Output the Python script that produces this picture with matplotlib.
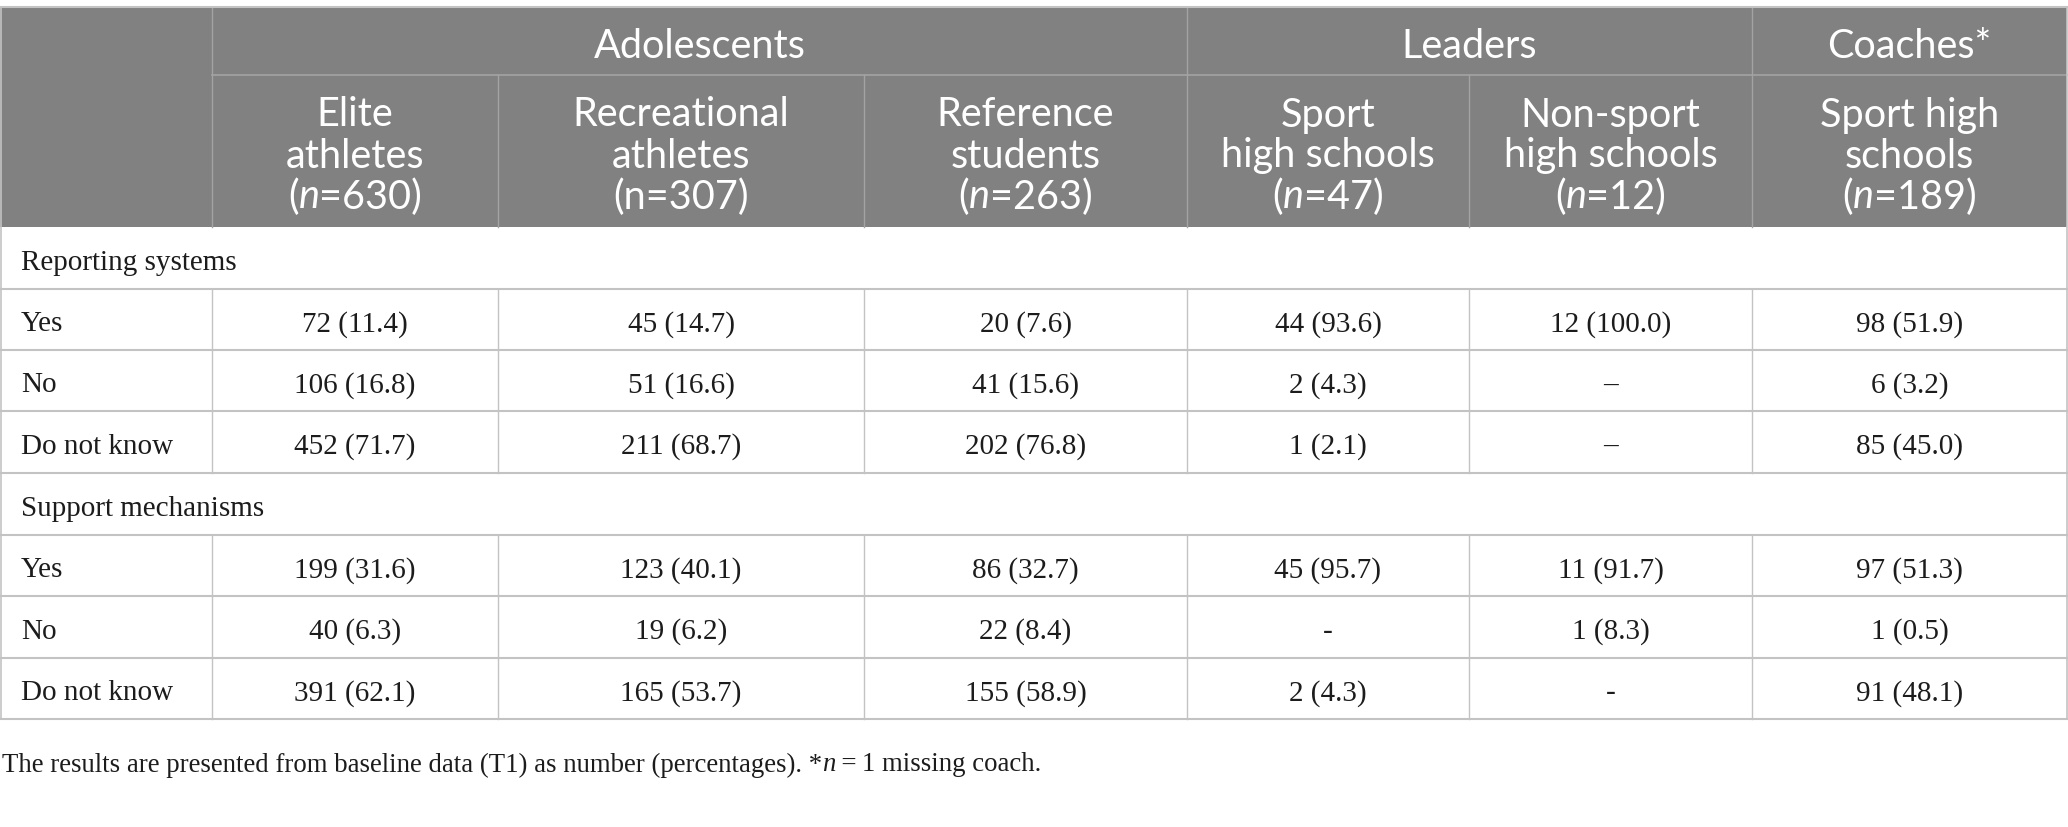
import matplotlib
matplotlib.use('Agg')
import matplotlib.pyplot as plt

# column groups (top header) and their sub-column spans
groups = ['Adolescents', 'Leaders', 'Coaches*']
group_spans = [(1, 3), (4, 5), (6, 6)]

# sub headers: each line is a list of (text, italic) runs
sub_headers = [
    [[('Elite', False)], [('athletes', False)], [('(', False), ('n', True), ('=630)', False)]],
    [[('Recreational', False)], [('athletes', False)], [('(n=307)', False)]],
    [[('Reference', False)], [('students', False)], [('(', False), ('n', True), ('=263)', False)]],
    [[('Sport', False)], [('high schools', False)], [('(', False), ('n', True), ('=47)', False)]],
    [[('Non-sport', False)], [('high schools', False)], [('(', False), ('n', True), ('=12)', False)]],
    [[('Sport high', False)], [('schools', False)], [('(', False), ('n', True), ('=189)', False)]],
]

sections = ['Reporting systems', 'Support mechanisms']
row_labels = ['Yes', 'No', 'Do not know']
reporting = [
    ['72 (11.4)', '45 (14.7)', '20 (7.6)', '44 (93.6)', '12 (100.0)', '98 (51.9)'],
    ['106 (16.8)', '51 (16.6)', '41 (15.6)', '2 (4.3)', '\u2013', '6 (3.2)'],
    ['452 (71.7)', '211 (68.7)', '202 (76.8)', '1 (2.1)', '\u2013', '85 (45.0)'],
]
support = [
    ['199 (31.6)', '123 (40.1)', '86 (32.7)', '45 (95.7)', '11 (91.7)', '97 (51.3)'],
    ['40 (6.3)', '19 (6.2)', '22 (8.4)', '-', '1 (8.3)', '1 (0.5)'],
    ['391 (62.1)', '165 (53.7)', '155 (58.9)', '2 (4.3)', '-', '91 (48.1)'],
]
footnote = [('The results are presented from baseline data (T1) as number (percentages). *', False),
            ('n', True), ('\u2009=\u20091 missing coach.', False)]

# layout (pixels)
W, H = 2068, 828
col_x = [0, 212, 498, 864, 1187, 1469, 1752, 2067]
row_y = [8, 76, 228, 290, 351, 412, 474, 536, 597, 659, 720]
head_bg = '#808180'
head_line = '#a3a3a3'
body_line = '#c3c3c3'
txt_col = '#1c1c1c'
head_font = 'Lato'
body_font = 'Liberation Serif'
head_size = 28.5
body_size = 21

fig = plt.figure(figsize=(W / 100, H / 100), dpi=100)
ax = fig.add_axes([0, 0, 1, 1])
ax.set_xlim(0, W)
ax.set_ylim(H, 0)
ax.axis('off')
renderer = fig.canvas.get_renderer()


def draw_runs(x, y, runs, family, size, color, ha='center'):
    # draw a line made of normal / italic pieces, centred or left aligned
    widths = []
    for s, it in runs:
        t = ax.text(0, 0, s, family=family, fontsize=size, style='italic' if it else 'normal')
        widths.append(t.get_window_extent(renderer).width)
        t.remove()
    total = sum(widths)
    x0 = x - total / 2 if ha == 'center' else x
    for (s, it), w in zip(runs, widths):
        ax.text(x0, y, s, family=family, fontsize=size, color=color,
                style='italic' if it else 'normal', ha='left', va='center')
        x0 += w


# header background
ax.add_patch(plt.Rectangle((col_x[0], row_y[0]), col_x[-1] - col_x[0], row_y[2] - row_y[0],
                           facecolor=head_bg, edgecolor='none'))

# header lines
ax.plot([col_x[1], col_x[-1]], [row_y[1], row_y[1]], color=head_line, lw=1.2)
for i in range(1, 7):
    top = row_y[0] if i in (1, 4, 6) else row_y[1]
    ax.plot([col_x[i], col_x[i]], [top, row_y[2]], color=head_line, lw=1.0)

for g, (a, b) in zip(groups, group_spans):
    cx = (col_x[a] + col_x[b + 1]) / 2
    ax.text(cx, 46, g, family=head_font, fontsize=head_size, color='white', ha='center', va='center')

line_y = [115, 156, 197]
for j, lines in enumerate(sub_headers):
    cx = (col_x[j + 1] + col_x[j + 2]) / 2
    for k, runs in enumerate(lines):
        draw_runs(cx, line_y[k], runs, head_font, head_size, 'white')

# body
body_rows = []
for sec, data in zip(sections, [reporting, support]):
    body_rows.append((sec, None))
    for lab, vals in zip(row_labels, data):
        body_rows.append((lab, vals))

for r, (lab, vals) in enumerate(body_rows):
    y0, y1 = row_y[r + 2], row_y[r + 3]
    cy = (y0 + y1) / 2 + 4
    ax.text(col_x[0] + 21, cy, lab, family=body_font, fontsize=body_size, color=txt_col,
            ha='left', va='center')
    ax.plot([col_x[0], col_x[-1]], [y1, y1], color=body_line, lw=1.5)
    if vals is not None:
        for j, v in enumerate(vals):
            cx = (col_x[j + 1] + col_x[j + 2]) / 2
            ax.text(cx, cy, v, family=body_font, fontsize=body_size, color=txt_col,
                    ha='center', va='center')
        for i in range(1, 7):
            ax.plot([col_x[i], col_x[i]], [y0, y1], color=body_line, lw=1.0)

# outer border
ax.plot([col_x[0] + 0.5, col_x[0] + 0.5], [row_y[0], row_y[-1]], color=body_line, lw=1.2)
ax.plot([col_x[-1], col_x[-1]], [row_y[0], row_y[-1]], color=body_line, lw=1.2)
ax.plot([col_x[0], col_x[-1]], [row_y[0], row_y[0]], color=body_line, lw=1.5)

draw_runs(2, 765, footnote, body_font, 19.3, txt_col, ha='left')

fig.savefig('out.png', dpi=100)
